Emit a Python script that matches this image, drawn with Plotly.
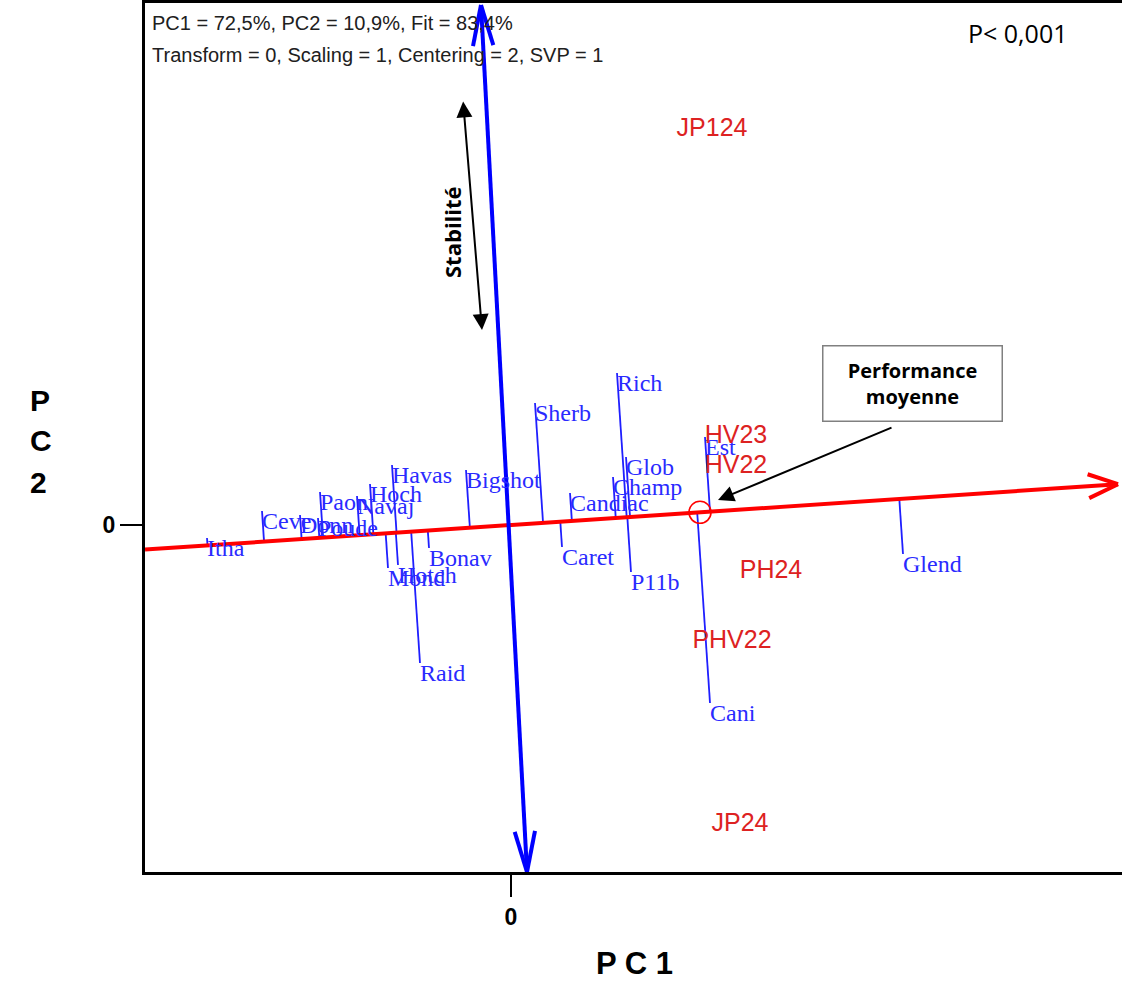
import numpy as np
import plotly.graph_objects as go

# ---------------- data (biplot scores) ----------------
genotypes = ["Itha", "Ceve", "Donn", "Poude", "Paon", "Navaj", "Hoch", "Havas",
             "Bigshot", "Mond", "Hotch", "Bonav", "Raid", "Sherb", "Candiac",
             "Caret", "Champ", "Glob", "Rich", "P11b", "Est", "Cani", "Glend"]
geno_pc1 = [-3.04, -2.49, -2.11, -1.93, -1.91, -1.54, -1.41, -1.19,
            -0.45, -1.23, -1.13, -0.82, -0.91, 0.24, 0.59,
            0.51, 1.02, 1.15, 1.06, 1.20, 1.94, 1.99, 3.92]
geno_pc2 = [-0.13, 0.14, 0.10, 0.07, 0.33, 0.29, 0.41, 0.60,
            0.55, -0.43, -0.40, -0.23, -1.38, 1.22, 0.32,
            -0.22, 0.48, 0.68, 1.52, -0.47, 0.88, -1.78, -0.29]

environments = ["JP124", "HV23", "HV22", "PH24", "PHV22", "JP24"]
env_pc1 = [2.01, 2.25, 2.25, 2.60, 2.21, 2.29]
env_pc2 = [3.95, 0.88, 0.58, -0.47, -1.17, -3.00]

avg_env_pc1 = 1.89
avg_env_pc2 = 0.127

# ATC ordinate (stability axis) end points
ordinate_pc1 = [-0.30, 0.16]
ordinate_pc2 = [5.20, -3.47]

x_range = [-3.66, 6.11]
y_range = [-3.47, 5.22]
atc_x_limits = [-3.66, 6.07]

title_lines = ["PC1 = 72,5%, PC2 = 10,9%, Fit = 83,4%",
               "Transform = 0, Scaling = 1, Centering = 2, SVP = 1"]

# ---------------- derived geometry ----------------
u = np.array([avg_env_pc1, avg_env_pc2])
u = u / np.linalg.norm(u)

def barbs(tip, direction, length, angle_deg):
    d = np.asarray(direction, float)
    d = d / np.linalg.norm(d)
    xs, ys = [], []
    for s in (1, -1):
        a = np.radians(s * angle_deg)
        r = np.array([d[0] * np.cos(a) - d[1] * np.sin(a),
                      d[0] * np.sin(a) + d[1] * np.cos(a)])
        p = tip - length * r
        xs += [tip[0], p[0], None]
        ys += [tip[1], p[1], None]
    return xs, ys

# ATC abscissa
t0 = atc_x_limits[0] / u[0]
t1 = atc_x_limits[1] / u[0]
atc_start = t0 * u
atc_tip = t1 * u
bx, by = barbs(atc_tip, u, 0.32, 22)
red_x = [atc_start[0], atc_tip[0], None] + bx
red_y = [atc_start[1], atc_tip[1], None] + by

# ATC ordinate with arrowheads at both ends
o_top = np.array([ordinate_pc1[0], ordinate_pc2[0]])
o_bot = np.array([ordinate_pc1[1], ordinate_pc2[1]])
tx, ty = barbs(o_top, o_top - o_bot, 0.42, 14)
bx2, by2 = barbs(o_bot, o_bot - o_top, 0.42, 14)
blue_x = [o_top[0], o_bot[0], None] + tx + bx2
blue_y = [o_top[1], o_bot[1], None] + ty + by2

# projections of genotypes onto the ATC abscissa
proj_x, proj_y = [], []
for gx, gy in zip(geno_pc1, geno_pc2):
    p = np.array([gx, gy])
    f = np.dot(p, u) * u
    proj_x += [gx, f[0], None]
    proj_y += [gy, f[1], None]

fig = go.Figure()

fig.add_trace(go.Scatter(x=proj_x, y=proj_y, mode="lines",
                         line=dict(color="#1f1fff", width=1.8),
                         hoverinfo="skip", showlegend=False))
fig.add_trace(go.Scatter(x=red_x, y=red_y, mode="lines",
                         line=dict(color="#ff0000", width=4),
                         hoverinfo="skip", showlegend=False))
fig.add_trace(go.Scatter(x=blue_x, y=blue_y, mode="lines",
                         line=dict(color="#0000ff", width=4),
                         hoverinfo="skip", showlegend=False))
fig.add_trace(go.Scatter(x=[avg_env_pc1], y=[avg_env_pc2], mode="markers",
                         marker=dict(symbol="circle-open", size=22,
                                     color="#ff0000", line=dict(width=1.6)),
                         showlegend=False))
fig.add_trace(go.Scatter(x=geno_pc1, y=geno_pc2, mode="text", text=genotypes,
                         textposition="bottom right",
                         textfont=dict(family="Liberation Serif", size=24,
                                       color="#2a2aff"),
                         showlegend=False))
fig.add_trace(go.Scatter(x=env_pc1, y=env_pc2, mode="text", text=environments,
                         textposition="middle center",
                         textfont=dict(family="Liberation Sans", size=25,
                                       color="#dd2222"),
                         showlegend=False))

annotations = [
    dict(x=-3.61, y=5.02, xref="x", yref="y", text=title_lines[0],
         showarrow=False, xanchor="left",
         font=dict(family="Liberation Sans", size=20, color="#202020")),
    dict(x=-3.61, y=4.70, xref="x", yref="y", text=title_lines[1],
         showarrow=False, xanchor="left",
         font=dict(family="Liberation Sans", size=20, color="#202020")),
    dict(x=5.06, y=4.92, xref="x", yref="y", text="P< 0,001",
         showarrow=False, font=dict(family="Open Sans", size=25, color="black")),
    # Stabilité double arrow
    dict(x=-0.29, y=1.95, ax=-0.48, ay=4.25, xref="x", yref="y",
         axref="x", ayref="y", text="", showarrow=True, arrowhead=2,
         startarrowhead=2, arrowside="end+start", arrowsize=1.6,
         startarrowsize=1.6, arrowwidth=2, arrowcolor="black"),
    dict(x=-0.59, y=2.93, xref="x", yref="y", text="<b>Stabilité</b>",
         textangle=-90, showarrow=False,
         font=dict(family="Open Sans", size=22, color="black")),
    # Performance moyenne box + arrow
    dict(x=2.07, y=0.25, ax=3.82, ay=0.98, xref="x", yref="y",
         axref="x", ayref="y", text="", showarrow=True, arrowhead=2,
         arrowsize=1.6, arrowwidth=2, arrowcolor="black"),
    dict(x=4.01, y=1.42, xref="x", yref="y",
         text="<b>Performance</b><br><b>moyenne</b>", showarrow=False,
         font=dict(family="Open Sans", size=20, color="black"),
         bordercolor="#808080", borderwidth=1.5, bgcolor="white",
         width=176, height=72, align="center"),
    # axis titles
    dict(x=0.5015, y=-0.1277, xref="paper", yref="paper", text="<b>P C 1</b>",
         showarrow=False, font=dict(family="Liberation Sans", size=31, color="black")),
]
for letter, py in zip(["P", "C", "2"], [400, 440, 482]):
    annotations.append(dict(x=(28 - 145) / 977, y=(872 - py) / 869,
                            xref="paper", yref="paper", text=f"<b>{letter}</b>",
                            showarrow=False,
                            font=dict(family="Liberation Sans", size=30,
                                      color="black")))

fig.update_layout(
    width=1122, height=1002,
    margin=dict(l=145, r=0, t=3, b=130),
    plot_bgcolor="white", paper_bgcolor="white",
    annotations=annotations,
    xaxis=dict(range=x_range, showgrid=False, zeroline=False,
               showline=True, mirror=True, linecolor="black", linewidth=3,
               tickvals=[0], ticktext=["<b>0</b>"], ticks="outside",
               ticklen=22, tickwidth=1.5, tickcolor="black",
               tickfont=dict(family="Liberation Sans", size=23, color="black")),
    yaxis=dict(range=y_range, showgrid=False, zeroline=False,
               showline=True, mirror=False, linecolor="black", linewidth=3,
               tickvals=[0], ticktext=["<b>0</b>"], ticks="outside",
               ticklen=22, tickwidth=1.5, tickcolor="black",
               tickfont=dict(family="Liberation Sans", size=23, color="black")),
)

fig.write_html("out.html")
